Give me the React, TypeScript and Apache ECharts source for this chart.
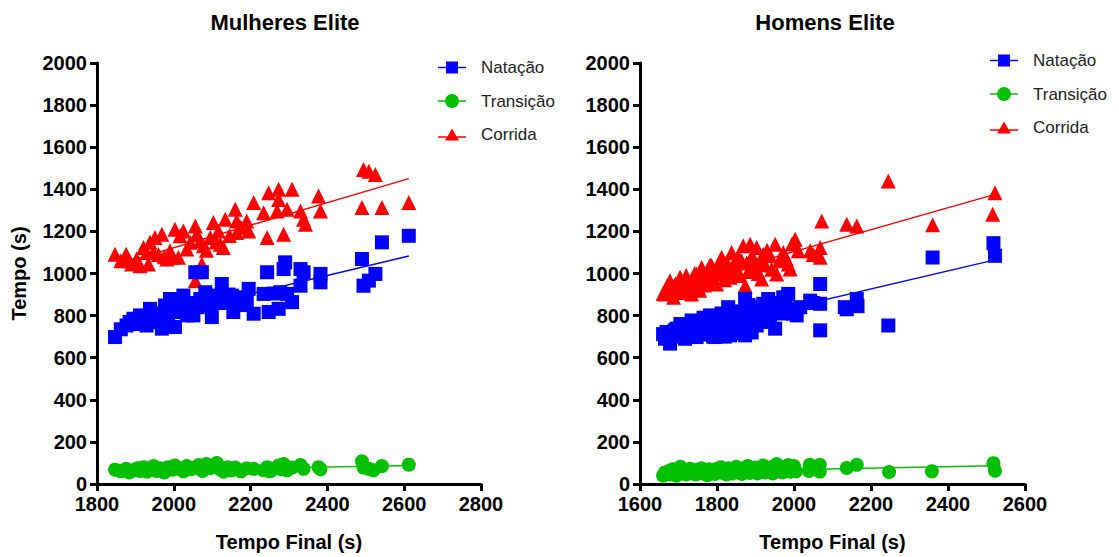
import React, { useEffect, useRef } from "react";
import * as echarts from "echarts";

// ---------- Data ----------
const seriesNames = ["Natação", "Transição", "Corrida"];
const chartTitles = ["Mulheres Elite", "Homens Elite"];
const xAxisName = "Tempo Final (s)";
const yAxisName = "Tempo (s)";

// Mulheres Elite: [tempo final, tempo do segmento]
const womenSwim = [
  [1847, 698], [1862, 735], [1877, 753], [1885, 770], [1895, 785], [1905, 760], [1912, 801], [1920, 780],
  [1929, 753], [1938, 832], [1945, 790], [1951, 769], [1960, 810], [1969, 738], [1977, 848], [1985, 800],
  [1990, 879], [1995, 820], [2003, 746], [2008, 817], [2015, 850], [2025, 895], [2029, 848], [2034, 801],
  [2040, 860], [2051, 801], [2056, 1006], [2062, 840], [2069, 879], [2073, 1006], [2082, 911], [2090, 850],
  [2095, 864], [2099, 793], [2105, 880], [2112, 895], [2120, 860], [2125, 950], [2134, 864], [2142, 900],
  [2151, 895], [2155, 817], [2165, 870], [2173, 887], [2182, 850], [2190, 864], [2195, 927], [2208, 809],
  [2234, 903], [2243, 1006], [2247, 817], [2262, 905], [2273, 832], [2277, 911], [2286, 1021], [2290, 1053],
  [2295, 903], [2308, 864], [2330, 1021], [2330, 942], [2338, 1006], [2382, 998], [2382, 958], [2490, 1069],
  [2494, 942], [2508, 966], [2525, 998], [2542, 1148], [2612, 1179],
];
const womenTrans = [
  [1847, 68], [1862, 60], [1876, 72], [1884, 55], [1895, 65], [1905, 75], [1912, 62], [1921, 80],
  [1930, 58], [1938, 70], [1947, 85], [1955, 62], [1965, 75], [1975, 55], [1985, 80], [1995, 68],
  [2003, 88], [2012, 72], [2025, 60], [2034, 85], [2045, 70], [2056, 78], [2065, 90], [2075, 62],
  [2085, 95], [2095, 75], [2105, 85], [2112, 100], [2121, 70], [2130, 58], [2140, 80], [2150, 65],
  [2160, 78], [2175, 60], [2190, 75], [2208, 72], [2234, 65], [2243, 80], [2250, 60], [2262, 72],
  [2273, 88], [2280, 70], [2286, 95], [2295, 65], [2308, 78], [2330, 90], [2338, 72], [2377, 80],
  [2382, 70], [2490, 108], [2494, 78], [2508, 72], [2520, 65], [2542, 85], [2612, 92],
];
const womenRun = [
  [1847, 1092], [1862, 1060], [1876, 1092], [1884, 1060], [1890, 1045], [1903, 1069], [1912, 1037], [1921, 1124],
  [1930, 1100], [1934, 1045], [1938, 1148], [1947, 1100], [1951, 1171], [1960, 1090], [1969, 1187], [1975, 1080],
  [1982, 1069], [1990, 1108], [1995, 1077], [2003, 1210], [2012, 1077], [2016, 1179], [2025, 1202], [2034, 1116],
  [2043, 1148], [2056, 1226], [2056, 966], [2060, 1187], [2069, 1155], [2073, 1045], [2077, 1132], [2085, 1110],
  [2095, 1171], [2103, 1242], [2110, 1150], [2116, 1202], [2121, 1139], [2129, 1124], [2134, 1258], [2145, 1180],
  [2160, 1305], [2164, 1250], [2164, 1195], [2175, 1220], [2190, 1250], [2195, 1202], [2208, 1337], [2234, 1289],
  [2243, 1171], [2247, 1384], [2269, 1297], [2273, 1400], [2273, 1352], [2286, 1187], [2295, 1305], [2308, 1400],
  [2330, 1297], [2338, 1258], [2343, 1234], [2377, 1368], [2382, 1297], [2490, 1313], [2494, 1494], [2508, 1486],
  [2525, 1470], [2542, 1313], [2612, 1337],
];
const womenSwimFit = [[1847, 750], [2612, 1083]];
const womenTransFit = [[1847, 62], [2612, 88]];
const womenRunFit = [[1847, 1040], [2612, 1451]];

// Homens Elite
const menSwim = [
  [1660, 712], [1665, 690], [1669, 722], [1678, 667], [1685, 705], [1690, 730], [1695, 738], [1700, 700],
  [1705, 760], [1710, 715], [1717, 690], [1722, 745], [1728, 710], [1734, 777], [1738, 730], [1742, 700],
  [1747, 698], [1752, 760], [1756, 725], [1760, 746], [1765, 790], [1770, 710], [1775, 760], [1778, 730],
  [1782, 801], [1786, 745], [1790, 700], [1795, 698], [1799, 780], [1803, 769], [1808, 720], [1812, 810],
  [1816, 750], [1820, 700], [1825, 790], [1829, 840], [1832, 760], [1834, 706], [1838, 735], [1843, 800],
  [1847, 770], [1851, 785], [1855, 715], [1860, 820], [1864, 760], [1868, 740], [1873, 879], [1873, 706],
  [1878, 800], [1882, 850], [1886, 760], [1890, 720], [1894, 817], [1898, 780], [1903, 753], [1907, 840],
  [1912, 800], [1916, 770], [1920, 856], [1925, 820], [1933, 879], [1938, 800], [1942, 840], [1951, 738],
  [1955, 832], [1960, 860], [1965, 810], [1972, 887], [1978, 850], [1985, 903], [1990, 830], [1998, 809],
  [2007, 801], [2016, 840], [2042, 871], [2050, 860], [2068, 950], [2068, 856], [2068, 730], [2132, 840],
  [2137, 830], [2163, 879], [2165, 845], [2245, 753], [2360, 1076], [2518, 1144], [2522, 1084],
];
const menTrans = [
  [1660, 40], [1665, 55], [1670, 48], [1675, 62], [1680, 45], [1685, 70], [1690, 52], [1695, 40],
  [1700, 60], [1705, 82], [1710, 50], [1715, 65], [1720, 45], [1725, 58], [1730, 72], [1735, 50],
  [1740, 62], [1745, 45], [1750, 68], [1755, 55], [1760, 75], [1765, 50], [1770, 60], [1775, 42],
  [1780, 70], [1785, 55], [1790, 65], [1795, 48], [1800, 72], [1805, 58], [1810, 80], [1815, 52],
  [1820, 66], [1825, 45], [1830, 75], [1835, 60], [1840, 50], [1845, 70], [1850, 82], [1855, 55],
  [1860, 65], [1865, 48], [1870, 75], [1875, 60], [1880, 85], [1885, 52], [1890, 68], [1895, 58],
  [1900, 78], [1905, 50], [1910, 70], [1915, 62], [1920, 88], [1925, 55], [1930, 72], [1935, 60],
  [1940, 80], [1945, 50], [1950, 68], [1955, 95], [1960, 62], [1965, 75], [1970, 55], [1975, 80],
  [1980, 65], [1985, 90], [1990, 58], [1995, 75], [2000, 85], [2005, 60], [2039, 62], [2041, 91],
  [2067, 91], [2067, 59], [2137, 76], [2163, 91], [2247, 57], [2358, 60], [2518, 99], [2522, 63],
];
const menRun = [
  [1660, 905], [1665, 903], [1670, 940], [1678, 966], [1683, 920], [1687, 887], [1692, 950], [1697, 930],
  [1704, 982], [1708, 945], [1712, 910], [1717, 960], [1720, 990], [1725, 950], [1730, 925], [1734, 903],
  [1738, 970], [1742, 1000], [1747, 998], [1750, 950], [1755, 920], [1760, 1029], [1764, 975], [1768, 945],
  [1773, 1006], [1778, 960], [1782, 1040], [1786, 1037], [1790, 985], [1795, 960], [1799, 950], [1803, 1010],
  [1808, 1060], [1812, 1077], [1816, 1000], [1820, 970], [1825, 1053], [1830, 1020], [1834, 982], [1838, 1100],
  [1842, 1040], [1846, 1000], [1851, 1021], [1855, 1080], [1860, 990], [1864, 1060], [1868, 1132], [1873, 942],
  [1877, 1050], [1881, 1010], [1886, 1139], [1890, 1080], [1894, 1021], [1898, 1060], [1903, 1124], [1907, 1000],
  [1912, 1053], [1916, 974], [1920, 1090], [1925, 1040], [1930, 1110], [1938, 1084], [1942, 1020], [1951, 1139],
  [1955, 998], [1962, 1060], [1972, 1100], [1980, 1070], [1985, 1045], [1990, 1021], [1995, 1140], [2003, 1163],
  [2011, 1108], [2042, 1108], [2050, 1090], [2068, 1124], [2068, 1077], [2072, 1250], [2137, 1234], [2163, 1226],
  [2245, 1439], [2360, 1231], [2516, 1281], [2522, 1384],
];
const menSwimFit = [[1660, 695], [2522, 1065]];
const menTransFit = [[1660, 56], [2522, 87]];
const menRunFit = [[1660, 927], [2522, 1376]];

const xRanges = [
  [1800, 2800],
  [1600, 2600],
];
const yRange = [0, 2000];
const tickStep = 200;

// ---------- Styling ----------
const FONT = "Arial, 'Liberation Sans', Helvetica, sans-serif";
const BLUE = "#0000ff";
const GREEN = "#00c000";
const RED = "#ff0000";

const ICON_SQUARE = "path://M0,6.2L28,6.2L28,7.8L0,7.8ZM8,1L20,1L20,13L8,13Z";
const ICON_CIRCLE = "path://M0,6.2L28,6.2L28,7.8L0,7.8ZM14,0A7,7 0 1,1 14,14A7,7 0 1,1 14,0Z";
const ICON_TRIANGLE = "path://M0,8.7L28,8.7L28,10.3L0,10.3ZM14,1L21,13L7,13Z";

export default function App() {
  const ref = useRef<HTMLDivElement>(null);

  useEffect(() => {
    if (!ref.current) return;
    const chart = echarts.init(ref.current, undefined, { renderer: "svg" });

    const grids = [
      { left: 97, top: 63, width: 384, height: 423 },
      { left: 640, top: 63, width: 385, height: 423 },
    ];

    const axisLine = { show: true, onZero: false, lineStyle: { color: "#000", width: 3 } };
    const axisTick = { show: true, length: 7, lineStyle: { color: "#000", width: 3 } };
    const labelStyle = { color: "#000", fontSize: 20, fontWeight: "bold", fontFamily: FONT };
    const plain = (v: number) => String(v);

    const xAxes = xRanges.map((r, i) => ({
      type: "value",
      gridIndex: i,
      min: r[0],
      max: r[1],
      interval: tickStep,
      axisLine,
      axisTick,
      splitLine: { show: false },
      axisLabel: { ...labelStyle, margin: 10, formatter: plain },
      name: xAxisName,
      nameLocation: "middle",
      nameGap: 48,
      nameTextStyle: { ...labelStyle },
    }));

    const yAxes = [0, 1].map((i) => ({
      type: "value",
      gridIndex: i,
      min: yRange[0],
      max: yRange[1],
      interval: tickStep,
      axisLine,
      axisTick,
      splitLine: { show: false },
      axisLabel: { ...labelStyle, margin: 10, formatter: plain },
      name: i === 0 ? yAxisName : "",
      nameLocation: "middle",
      nameGap: 68,
      nameRotate: 90,
      nameTextStyle: { ...labelStyle },
    }));

    const scatter = (name: string, data: number[][], symbol: string, size: number, color: string, idx: number, z: number) => ({
      type: "scatter",
      name,
      data,
      symbol,
      symbolSize: size,
      itemStyle: { color, opacity: 1 },
      xAxisIndex: idx,
      yAxisIndex: idx,
      z,
      silent: true,
    });
    const fit = (data: number[][], color: string, idx: number) => ({
      type: "line",
      data,
      symbol: "none",
      showSymbol: false,
      lineStyle: { color, width: 1.4 },
      xAxisIndex: idx,
      yAxisIndex: idx,
      z: 1,
      silent: true,
    });

    const legendItems = [
      { name: seriesNames[0], icon: ICON_SQUARE },
      { name: seriesNames[1], icon: ICON_CIRCLE },
      { name: seriesNames[2], icon: ICON_TRIANGLE },
    ];
    const legendBase = {
      orient: "vertical",
      itemWidth: 28,
      itemHeight: 14,
      itemGap: 16.5,
      selectedMode: false,
      textStyle: { fontSize: 17, color: "#222", fontFamily: FONT, padding: [0, 0, 0, 10] },
      data: legendItems,
    };

    chart.setOption({
      animation: false,
      backgroundColor: "#fff",
      title: [
        {
          text: chartTitles[0],
          left: 280,
          top: 6,
          textAlign: "center",
          textStyle: { fontSize: 22, fontWeight: "bold", color: "#000", fontFamily: FONT },
        },
        {
          text: chartTitles[1],
          left: 820,
          top: 6,
          textAlign: "center",
          textStyle: { fontSize: 22, fontWeight: "bold", color: "#000", fontFamily: FONT },
        },
      ],
      legend: [
        { ...legendBase, left: 433, top: 54 },
        { ...legendBase, left: 985, top: 47 },
      ],
      grid: grids,
      xAxis: xAxes,
      yAxis: yAxes,
      series: [
        fit(womenSwimFit, BLUE, 0),
        fit(womenTransFit, GREEN, 0),
        fit(womenRunFit, RED, 0),
        scatter(seriesNames[2], womenRun, "triangle", 15, RED, 0, 3),
        scatter(seriesNames[1], womenTrans, "circle", 14, GREEN, 0, 3),
        scatter(seriesNames[0], womenSwim, "rect", 14, BLUE, 0, 4),
        fit(menSwimFit, BLUE, 1),
        fit(menTransFit, GREEN, 1),
        fit(menRunFit, RED, 1),
        scatter(seriesNames[2], menRun, "triangle", 15, RED, 1, 3),
        scatter(seriesNames[1], menTrans, "circle", 14, GREEN, 1, 3),
        scatter(seriesNames[0], menSwim, "rect", 14, BLUE, 1, 4),
      ],
    });

    return () => chart.dispose();
  }, []);

  return (
    <div
      ref={ref}
      style={{ position: "fixed", left: 0, top: 0, width: 1119, height: 557, background: "#fff" }}
    />
  );
}
